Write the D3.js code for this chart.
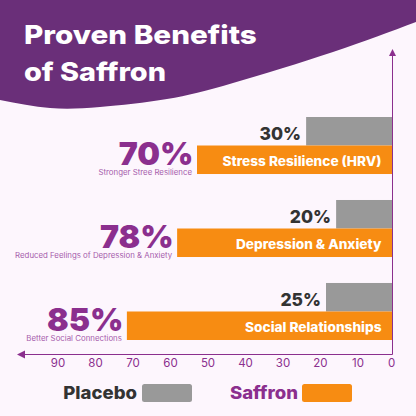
<!DOCTYPE html>
<html>
<head>
<meta charset="utf-8">
<script src="https://cdn.jsdelivr.net/npm/d3@7"></script>
<style>
  html, body { margin: 0; padding: 0; background: #fdf6fd; }
  svg { display: block; font-family: Inter, "Open Sans", sans-serif; }
</style>
</head>
<body>
<svg id="chart" width="416" height="416"></svg>
<script>
const titleLines = ['Proven Benefits', 'of Saffron'];
const categories = ['Stress Resilience (HRV)', 'Depression & Anxiety', 'Social Relationships'];
const saffronBars = [52.8, 58.1, 71.5];
const placeboBars = [23.7, 15.7, 18.4];
const saffronLabels = ['70%', '78%', '85%'];
const placeboLabels = ['30%', '20%', '25%'];
const captions = ['Stronger Stree Resilience', 'Reduced Feelings of Depression & Anxiety', 'Better Social Connections'];
const axisTicks = [0, 10, 20, 30, 40, 50, 60, 70, 80, 90];
const legendItems = ['Placebo', 'Saffron'];

const purple = '#6a2f79';
const accent = '#8b2f8e';
const orange = '#f78c12';
const grey = '#999999';
const dark = '#333333';

const svg = d3.select('#chart');

const x = d3.scaleLinear().domain([0, 90]).range([395, 57.5]);
const y = d3.scaleBand().domain(categories).range([117, 340]).paddingInner(0.313);
const half = y.bandwidth() / 2;
const axisX = 392.5; // the vertical axis sits a little left of the zero tick

// fonts here are narrower than the original, so stretch text sideways
const widen = (sel, k) => sel.each(function (d, i) {
  d3.select(this)
    .attr('textLength', this.getComputedTextLength() * (typeof k === 'function' ? k(d, i) : k))
    .attr('lengthAdjust', 'spacingAndGlyphs');
});

// header shape
const headerEdge = [[416, 22], [333, 52], [233, 83], [167, 99], [100, 107], [50, 108], [0, 100]];
const edgePath = d3.line().curve(d3.curveNatural)(headerEdge);
svg.append('path')
  .attr('d', `M0,0 L416,0 L${edgePath.slice(1)} Z`)
  .attr('fill', purple);

svg.append('g')
  .selectAll('text')
  .data(titleLines)
  .join('text')
  .attr('x', 24)
  .attr('y', (d, i) => 44 + i * 37)
  .attr('fill', '#fff')
  .attr('font-size', 26)
  .attr('font-weight', 800)
  .text((d) => d)
  .call(widen, (d, i) => (i ? 1.11 : 1.14));

// bars
const rows = svg.append('g')
  .selectAll('g')
  .data(categories)
  .join('g')
  .attr('transform', (d) => `translate(0,${y(d)})`);

rows.append('rect')
  .attr('x', (d, i) => x(placeboBars[i]))
  .attr('y', 0)
  .attr('width', (d, i) => axisX - x(placeboBars[i]))
  .attr('height', half)
  .attr('fill', grey);

rows.append('rect')
  .attr('x', (d, i) => x(saffronBars[i]))
  .attr('y', half)
  .attr('width', (d, i) => axisX - x(saffronBars[i]))
  .attr('height', half)
  .attr('fill', orange);

rows.append('text')
  .attr('x', (d, i) => x(placeboBars[i]) - 5)
  .attr('y', 23)
  .attr('text-anchor', 'end')
  .attr('fill', dark)
  .attr('font-size', 17.5)
  .attr('font-weight', 800)
  .text((d, i) => placeboLabels[i]);

rows.append('text')
  .attr('x', axisX - 11)
  .attr('y', half + 20.5)
  .attr('text-anchor', 'end')
  .attr('fill', '#fff')
  .attr('font-size', 13)
  .attr('font-weight', 800)
  .text((d) => d)
  .call(widen, 1.05);

rows.append('text')
  .attr('x', (d, i) => x(saffronBars[i]) - 3.5)
  .attr('y', half + 19.5)
  .attr('text-anchor', 'end')
  .attr('fill', accent)
  .attr('font-size', 32)
  .attr('font-weight', 900)
  .text((d, i) => saffronLabels[i]);

rows.append('text')
  .attr('x', (d, i) => x(saffronBars[i]) - 5)
  .attr('y', half + 29.5)
  .attr('text-anchor', 'end')
  .attr('fill', '#a55bab')
  .attr('font-size', 7.4)
  .text((d, i) => captions[i])
  .call(widen, 1.06);

// axes
const axisG = svg.append('g')
  .attr('transform', 'translate(0,354)')
  .call(d3.axisBottom(x).tickValues(axisTicks).tickSize(0).tickPadding(5));
axisG.select('.domain').remove();
axisG.selectAll('text')
  .attr('fill', accent)
  .attr('font-size', 11.5)
  .attr('dx', (d) => (d === 0 ? -4 : 0))
  .style('font-family', 'Inter, sans-serif');

svg.append('path')
  .attr('d', `M${axisX},50 V354.5 H22`)
  .attr('fill', 'none')
  .attr('stroke', accent)
  .attr('stroke-width', 1);
svg.append('path').attr('d', `M${axisX},49 l-3.5,7 h7 Z`).attr('fill', accent);
svg.append('path').attr('d', 'M17,354.5 l8,-4 v8 Z').attr('fill', accent);

// legend
const legend = svg.append('g');
const legendText = [137, 298];
const legendSwatch = [142, 302];
legend.selectAll('text')
  .data(legendItems)
  .join('text')
  .attr('x', (d, i) => legendText[i])
  .attr('y', 399)
  .attr('text-anchor', 'end')
  .attr('font-size', 17.5)
  .attr('font-weight', 800)
  .attr('fill', (d, i) => (i ? accent : dark))
  .text((d) => d)
  .call(widen, 1.06);
legend.selectAll('rect')
  .data(legendItems)
  .join('rect')
  .attr('x', (d, i) => legendSwatch[i])
  .attr('y', 384)
  .attr('width', 50)
  .attr('height', 18)
  .attr('rx', 2.5)
  .attr('fill', (d, i) => (i ? orange : grey));
</script>
</body>
</html>
